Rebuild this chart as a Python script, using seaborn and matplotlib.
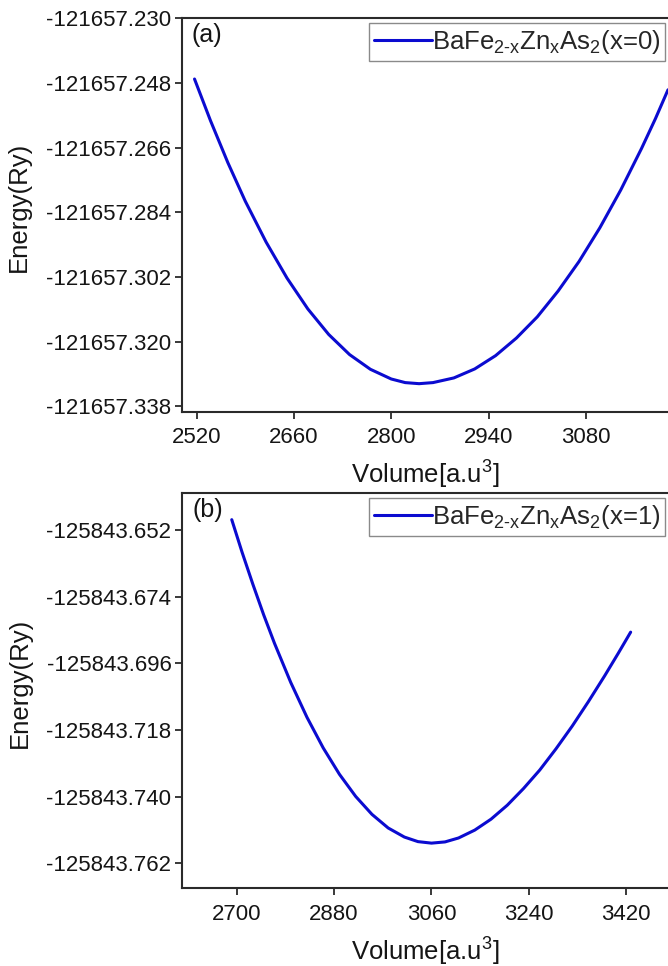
import matplotlib
matplotlib.use("Agg")
import matplotlib.pyplot as plt
import seaborn as sns
from matplotlib.ticker import FixedLocator, FixedFormatter

# ---- data -------------------------------------------------------------
# (a) x = 0
vol_a = [2517, 2540, 2565, 2590, 2620, 2650, 2680, 2710, 2740, 2770, 2800,
         2820, 2840, 2860, 2890, 2920, 2950, 2980, 3010, 3040, 3070, 3100,
         3130, 3160, 3180, 3198]
energy_a = [-121657.2469, -121657.2585, -121657.2702, -121657.2809,
            -121657.2923, -121657.3023, -121657.3109, -121657.3180,
            -121657.3236, -121657.3277, -121657.3304, -121657.3314,
            -121657.3317, -121657.3314, -121657.3301, -121657.3276,
            -121657.3239, -121657.3190, -121657.3131, -121657.3059,
            -121657.2977, -121657.2883, -121657.2778, -121657.2662,
            -121657.2579, -121657.2499]

# (b) x = 1
vol_b = [2691, 2710, 2730, 2750, 2770, 2800, 2830, 2860, 2890, 2920, 2950,
         2980, 3010, 3035, 3060, 3085, 3110, 3140, 3170, 3200, 3230, 3260,
         3290, 3320, 3350, 3380, 3405, 3428]
energy_b = [-125843.6486, -125843.6593, -125843.6699, -125843.6800,
            -125843.6894, -125843.7023, -125843.7138, -125843.7239,
            -125843.7326, -125843.7399, -125843.7458, -125843.7503,
            -125843.7533, -125843.7548, -125843.7553, -125843.7549,
            -125843.7536, -125843.7510, -125843.7474, -125843.7428,
            -125843.7373, -125843.7312, -125843.7242, -125843.7167,
            -125843.7086, -125843.7001, -125843.6927, -125843.6857]

xticks_a = [2520, 2660, 2800, 2940, 3080]
yticks_a = [-121657.338, -121657.320, -121657.302, -121657.284,
            -121657.266, -121657.248, -121657.230]
ylabels_a = ["-121657.338", "-121657.320", "-121657.302", "-121657.284",
             "-121657.266", "-121657.248", "-121657.230"]

xticks_b = [2700, 2880, 3060, 3240, 3420]
yticks_b = [-125843.762, -125843.740, -125843.718, -125843.696,
            -125843.674, -125843.652]
ylabels_b = ["-125843.762", "-125843.740", "-125843.718", "-125843.696",
             "-125843.674", "-125843.652"]

label_a = r"BaFe$_{\mathregular{2\text{-}x}}$Zn$_{\mathregular{x}}$As$_{\mathregular{2}}$(x=0)"
label_b = r"BaFe$_{\mathregular{2\text{-}x}}$Zn$_{\mathregular{x}}$As$_{\mathregular{2}}$(x=1)"

# ---- style ------------------------------------------------------------
sns.set_style("ticks")
plt.rcParams["font.family"] = ["Liberation Sans", "DejaVu Sans"]
plt.rcParams["mathtext.fontset"] = "custom"
plt.rcParams["mathtext.rm"] = "Liberation Sans"
plt.rcParams["mathtext.it"] = "Liberation Sans:italic"
plt.rcParams["mathtext.bf"] = "Liberation Sans:bold"

LINE = "#0b0bd0"
SPINE = "#2a2a2a"
TEXT = "#151515"

fig = plt.figure(figsize=(6.68, 9.66), dpi=100)
ax_a = fig.add_axes([182 / 668, 1 - 411.7 / 966, 486 / 668, 393.4 / 966])
ax_b = fig.add_axes([182.5 / 668, 1 - 888.3 / 966, 485.5 / 668, 395.0 / 966])

panels = [
    (ax_a, vol_a, energy_a, label_a, "(a)", xticks_a, yticks_a, ylabels_a,
     (2499, 3198), (-121657.3395, -121657.230)),
    (ax_b, vol_b, energy_b, label_b, "(b)", xticks_b, yticks_b, ylabels_b,
     (2600, 3497), (-125843.7702, -125843.6399)),
]

for ax, vx, ey, lab, tag, xt, yt, yl, xlim, ylim in panels:
    sns.lineplot(x=vx, y=ey, ax=ax, color=LINE, lw=2.2, sort=False,
                 label=lab)
    ax.set_xlim(*xlim)
    ax.set_ylim(*ylim)
    ax.xaxis.set_major_locator(FixedLocator(xt))
    ax.yaxis.set_major_locator(FixedLocator(yt))
    ax.yaxis.set_major_formatter(FixedFormatter(yl))
    ax.set_xticklabels([str(v) for v in xt])

    for side in ("left", "bottom", "top"):
        ax.spines[side].set_linewidth(1.5)
        ax.spines[side].set_color(SPINE)
    ax.spines["right"].set_visible(False)
    ax.tick_params(axis="both", direction="out", length=5, width=1.3,
                   color=SPINE, labelsize=16, labelcolor=TEXT, pad=3)
    ax.tick_params(axis="x", pad=6)

    ax.set_xlabel(r"Volume[a.u$^{\mathregular{3}}$]", fontsize=18.5,
                  color=TEXT)
    ax.set_ylabel("Energy(Ry)", fontsize=18.5, color=TEXT)
    ax.yaxis.set_label_coords(-0.31, 0.52)
    ax.xaxis.set_label_coords(0.5, -0.12)

    ax.text(0.02, 0.988, tag, transform=ax.transAxes, fontsize=18,
            ha="left", va="top", color=TEXT)

    leg = ax.legend(loc="upper right", bbox_to_anchor=(0.994, 0.988),
                    borderaxespad=0, fontsize=18.5, handlelength=2.25,
                    handletextpad=0.0, borderpad=0.2, fancybox=False,
                    framealpha=1, edgecolor="#8a8a8a")
    leg.get_frame().set_linewidth(1.0)

fig.savefig("out.png", dpi=100)
